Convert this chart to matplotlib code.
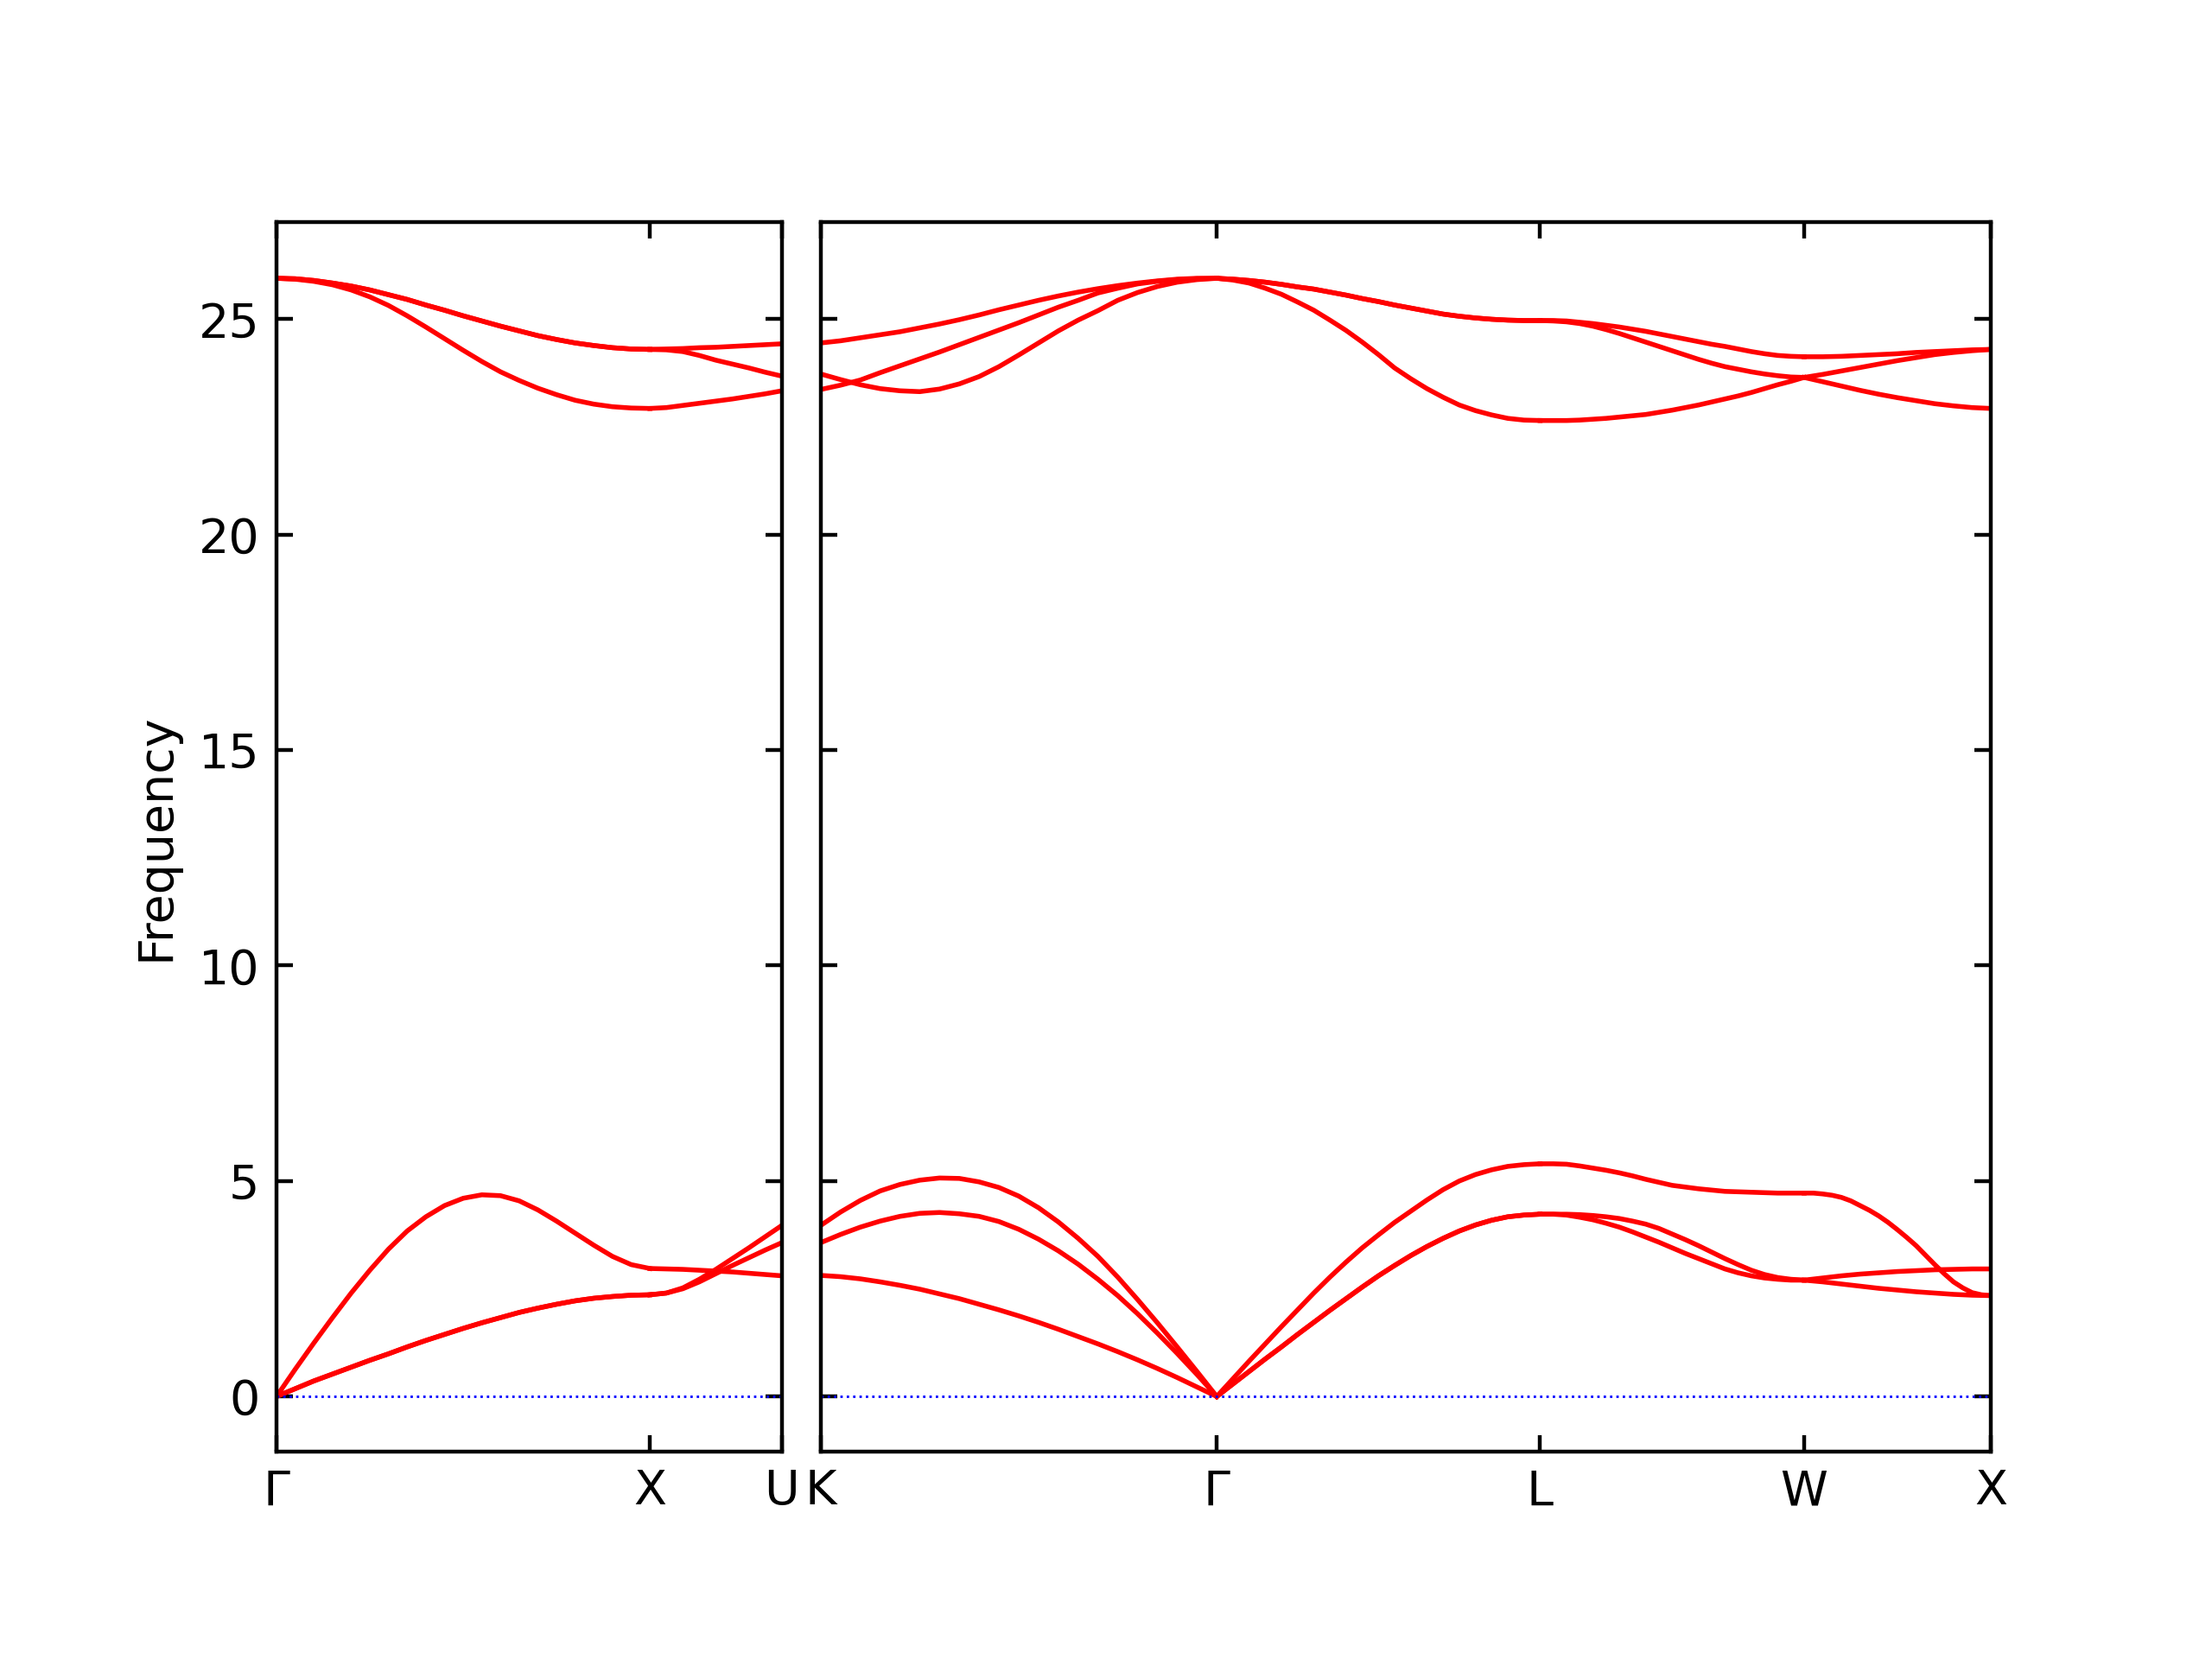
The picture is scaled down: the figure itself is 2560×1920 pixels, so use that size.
import numpy as np
import matplotlib
matplotlib.use("Agg")
import matplotlib.pyplot as plt

# segment lengths along the fcc path (2pi/a)
len_gx = 1.0
len_xu = np.sqrt(2) / 4
len_kg = 3 * np.sqrt(2) / 4
len_gl = np.sqrt(3) / 2
len_lw = np.sqrt(2) / 2
len_wx = 0.5

left_labels = ["Γ", "X", "U"]
right_labels = ["K", "Γ", "L", "W", "X"]

# frequencies read along each segment (evenly spaced samples)
gx_la = [0.0, 0.63, 1.24, 1.83, 2.40, 2.93, 3.42, 3.84, 4.17, 4.43, 4.60,
         4.68, 4.66, 4.54, 4.33, 4.07, 3.79, 3.51, 3.25, 3.06, 2.97]
gx_ta = [0.0, 0.18, 0.36, 0.52, 0.68, 0.84, 0.99, 1.15, 1.30, 1.44, 1.58,
         1.71, 1.83, 1.95, 2.05, 2.14, 2.22, 2.28, 2.32, 2.35, 2.36]
gx_lo = [25.95, 25.93, 25.88, 25.80, 25.68, 25.52, 25.32, 25.08, 24.82, 24.55, 24.28,
         24.02, 23.78, 23.58, 23.40, 23.25, 23.12, 23.03, 22.97, 22.94, 22.93]
gx_to = [25.95, 25.94, 25.90, 25.84, 25.77, 25.68, 25.57, 25.46, 25.33, 25.21, 25.08,
         24.96, 24.84, 24.73, 24.62, 24.53, 24.45, 24.39, 24.34, 24.31, 24.30]
gx_bands = [gx_la, gx_ta, gx_ta, gx_lo, gx_to, gx_to]

xu_bands = [
    [2.97, 2.96, 2.95, 2.93, 2.91, 2.89, 2.86, 2.83, 2.80],
    [2.36, 2.40, 2.52, 2.72, 2.95, 3.20, 3.45, 3.71, 3.97],
    [2.36, 2.40, 2.50, 2.66, 2.85, 3.04, 3.22, 3.40, 3.57],
    [22.93, 22.95, 23.00, 23.05, 23.10, 23.15, 23.21, 23.27, 23.34],
    [24.30, 24.29, 24.25, 24.16, 24.05, 23.96, 23.87, 23.77, 23.68],
    [24.30, 24.31, 24.32, 24.34, 24.35, 24.37, 24.39, 24.41, 24.43],
]

kg_bands = [
    [3.97, 4.28, 4.55, 4.77, 4.92, 5.02, 5.07, 5.06, 4.98, 4.85, 4.65,
     4.38, 4.05, 3.67, 3.25, 2.77, 2.25, 1.71, 1.15, 0.58, 0.0],
    [3.57, 3.76, 3.93, 4.07, 4.18, 4.25, 4.27, 4.24, 4.18, 4.06, 3.88,
     3.65, 3.38, 3.07, 2.72, 2.34, 1.92, 1.47, 1.00, 0.51, 0.0],
    [2.81, 2.78, 2.73, 2.66, 2.58, 2.49, 2.38, 2.27, 2.14, 2.01, 1.87,
     1.72, 1.56, 1.39, 1.22, 1.04, 0.85, 0.65, 0.44, 0.22, 0.0],
    [24.45, 24.50, 24.57, 24.64, 24.71, 24.80, 24.89, 24.99, 25.10, 25.22, 25.33,
     25.44, 25.54, 25.63, 25.71, 25.78, 25.84, 25.89, 25.93, 25.95, 25.95],
    [23.37, 23.47, 23.59, 23.76, 23.92, 24.08, 24.24, 24.41, 24.58, 24.75, 24.92,
     25.10, 25.28, 25.44, 25.61, 25.72, 25.82, 25.88, 25.92, 25.94, 25.95],
    [23.73, 23.60, 23.48, 23.39, 23.34, 23.32, 23.38, 23.50, 23.67, 23.90, 24.17,
     24.45, 24.73, 24.98, 25.20, 25.44, 25.62, 25.76, 25.86, 25.92, 25.95],
]

gl_la = [0.0, 0.41, 0.82, 1.22, 1.62, 2.01, 2.40, 2.77, 3.12, 3.45, 3.75,
         4.04, 4.30, 4.56, 4.80, 5.00, 5.15, 5.26, 5.34, 5.38, 5.40]
gl_ta = [0.0, 0.29, 0.58, 0.87, 1.15, 1.44, 1.72, 2.00, 2.27, 2.54, 2.80,
         3.04, 3.27, 3.48, 3.67, 3.84, 3.98, 4.09, 4.17, 4.21, 4.23]
gl_to = [25.95, 25.93, 25.90, 25.86, 25.81, 25.75, 25.70, 25.63, 25.56, 25.48, 25.41,
         25.33, 25.26, 25.19, 25.12, 25.07, 25.03, 25.00, 24.98, 24.97, 24.97]
gl_lo = [25.95, 25.91, 25.84, 25.72, 25.58, 25.40, 25.21, 24.98, 24.74, 24.47, 24.18,
         23.87, 23.62, 23.39, 23.19, 23.01, 22.88, 22.78, 22.70, 22.66, 22.65]
gl_bands = [gl_la, gl_ta, gl_ta, gl_to, gl_to, gl_lo]

lw_bands = [
    [5.40, 5.40, 5.39, 5.35, 5.30, 5.25, 5.19, 5.12, 5.04, 4.97, 4.90,
     4.86, 4.82, 4.79, 4.76, 4.75, 4.74, 4.73, 4.72, 4.72, 4.72],
    [4.23, 4.23, 4.23, 4.22, 4.20, 4.17, 4.13, 4.07, 4.00, 3.90, 3.77,
     3.64, 3.50, 3.35, 3.20, 3.06, 2.93, 2.83, 2.76, 2.72, 2.70],
    [4.23, 4.23, 4.21, 4.16, 4.10, 4.02, 3.93, 3.82, 3.70, 3.58, 3.45,
     3.32, 3.20, 3.08, 2.96, 2.87, 2.80, 2.75, 2.72, 2.70, 2.70],
    [24.97, 24.97, 24.96, 24.93, 24.90, 24.86, 24.82, 24.77, 24.72, 24.66, 24.60,
     24.54, 24.48, 24.42, 24.37, 24.31, 24.25, 24.20, 24.16, 24.14, 24.13],
    [24.97, 24.96, 24.94, 24.90, 24.84, 24.76, 24.67, 24.57, 24.47, 24.37, 24.27,
     24.17, 24.07, 23.98, 23.90, 23.84, 23.78, 23.73, 23.69, 23.66, 23.65],
    [22.65, 22.65, 22.65, 22.66, 22.68, 22.70, 22.73, 22.76, 22.79, 22.84, 22.89,
     22.95, 23.01, 23.08, 23.15, 23.22, 23.30, 23.39, 23.48, 23.56, 23.65],
]

wx_bands = [
    [4.72, 4.72, 4.70, 4.67, 4.62, 4.54, 4.43, 4.32, 4.19, 4.04, 3.87,
     3.69, 3.50, 3.28, 3.06, 2.85, 2.66, 2.52, 2.41, 2.36, 2.34],
    [2.70, 2.75, 2.80, 2.84, 2.87, 2.90, 2.92, 2.94, 2.95, 2.96, 2.96],
    [2.70, 2.66, 2.61, 2.56, 2.51, 2.47, 2.43, 2.40, 2.37, 2.35, 2.34],
    [24.13, 24.13, 24.14, 24.16, 24.18, 24.20, 24.23, 24.25, 24.27, 24.29, 24.30],
    [23.65, 23.72, 23.80, 23.88, 23.96, 24.04, 24.11, 24.18, 24.23, 24.27, 24.30],
    [23.65, 23.55, 23.45, 23.35, 23.26, 23.18, 23.11, 23.04, 22.99, 22.95, 22.93],
]

left_segments = [(len_gx, gx_bands), (len_xu, xu_bands)]
right_segments = [(len_kg, kg_bands), (len_gl, gl_bands), (len_lw, lw_bands), (len_wx, wx_bands)]


def draw_path(ax, segments, labels):
    start = 0.0
    ticks = [0.0]
    for length, bands in segments:
        for band in bands:
            x = np.linspace(start, start + length, len(band))
            ax.plot(x, band, "r-", linewidth=1.0)
        start += length
        ticks.append(start)
    ax.plot([0, start], [0, 0], "b:", linewidth=0.5)
    ax.set_xlim(0, start)
    ax.set_xticks(ticks)
    ax.set_xticklabels(labels)
    ax.set_ylim(-1.28, 27.25)
    ax.set_yticks([0, 5, 10, 15, 20, 25])
    ax.tick_params(direction="in", top=True, right=True)


left_total = len_gx + len_xu
right_total = len_kg + len_gl + len_lw + len_wx

fig, (ax1, ax2) = plt.subplots(
    1, 2, figsize=(6.4, 4.8), dpi=400,
    gridspec_kw={"width_ratios": [left_total, right_total], "wspace": 0.0464},
)
fig.subplots_adjust(left=0.125, right=0.9, bottom=0.125, top=0.866)

draw_path(ax1, left_segments, left_labels)
draw_path(ax2, right_segments, right_labels)
ax1.set_ylabel("Frequency")
ax2.tick_params(labelleft=False)

fig.savefig("out.png", dpi=400)
